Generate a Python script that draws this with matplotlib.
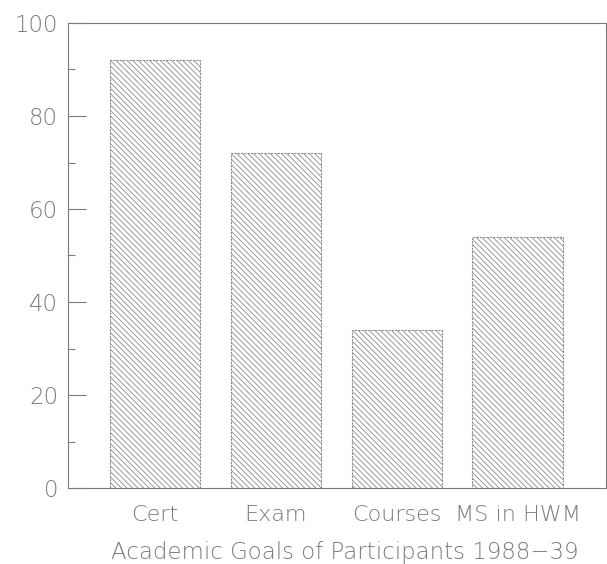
import matplotlib.pyplot as plt
from matplotlib.ticker import MultipleLocator

# Academic goals, percent of participants
goals = ["Cert", "Exam", "Courses", "MS in HWM"]
percent = [92, 72, 34, 54]

ink = "#7a7a7a"
plt.rcParams["hatch.color"] = "#9a9a9a"
plt.rcParams["hatch.linewidth"] = 0.6

fig = plt.figure(figsize=(6.07, 5.64), dpi=100)
ax = fig.add_axes([68 / 607, 76 / 564, 538 / 607, 465 / 564])

x = range(len(goals))
ax.bar(x, percent, width=0.75, facecolor="white", edgecolor="#8a8a8a",
       hatch="\\\\\\\\\\\\", linewidth=0.8, linestyle=(0, (2, 1)))

ax.set_xlim(-0.72, 3.73)
ax.set_ylim(0, 100)
ax.yaxis.set_major_locator(MultipleLocator(20))
ax.yaxis.set_minor_locator(MultipleLocator(10))
ax.tick_params(axis="y", which="major", direction="in", length=13, width=0.8,
               color=ink, labelcolor=ink, labelsize=16.5, pad=7)
ax.tick_params(axis="y", which="minor", direction="in", length=5, width=0.8, color=ink)
ax.tick_params(axis="x", length=0, labelcolor=ink, labelsize=16, pad=12)
ax.set_xticks(list(x))
ax.set_xticklabels(goals)
for lab in ax.get_xticklabels() + ax.get_yticklabels():
    lab.set_fontweight("light")
for s in ax.spines.values():
    s.set_color(ink)
    s.set_linewidth(0.8)

ax.set_xlabel("Academic Goals of Participants 1988\u221239", color=ink,
              fontsize=16.5, fontweight="light")
ax.xaxis.set_label_coords(0.515, -0.115)

fig.savefig("out.png", dpi=100)
